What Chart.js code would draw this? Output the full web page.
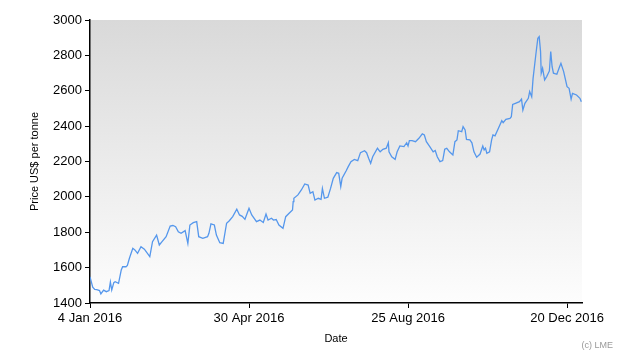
<!DOCTYPE html>
<html>
<head>
<meta charset="utf-8">
<script src="https://cdn.jsdelivr.net/npm/chart.js@4"></script>
<style>
html,body{margin:0;padding:0;background:#fff;}
#wrap{width:630px;height:360px;position:relative;}
</style>
</head>
<body>
<div id="wrap"><canvas id="priceChart" width="630" height="360"></canvas></div>
<script>
// days counted from 4 Jan 2016
const days = [0,2,3.5,5,7,8,10,12,14,15,16,17.5,18.5,21,23,24,26.5,27.5,29,31.5,33,35,37.5,40,44,46,49,51,53,56,59,61,63,65,67,70,72,73.5,76,78.5,80,83,86.5,87.5,89,91.5,93,95.5,98,100.5,102.5,105,108,110,112,114,117,119,122.5,125,127.5,129.5,131,133.5,135,137,139,142,144,146.5,149,149.5,150,153,155.5,158,160.5,162,164,165.5,168,170,171,172.5,175,177,179,181.5,183,184.5,185.5,188.5,190,192,194.5,197,199,202,203.5,205,206.5,208,211.5,213.5,215.5,218,219.5,220,222,224.5,226,228,231,233,234,235,237,239.5,242,244.5,246,247.5,250,252.5,254,255.5,257.5,259.5,261,262.5,264.5,267,268.5,270,271,273.5,274.5,276,277,279.5,281,282.5,284.5,287,289,290,291,292,294,295.5,296.5,298,300.5,303,304,306,309,310,311,313,316,317.5,318.5,320,322.5,323.5,325,326,328,329.5,330.5,331.5,332,333,334.5,336,338,339,340,341,343.5,345.5,346.5,348.5,351,352.5,354,355,358,360.5,361.5];
const prices = [1548,1490,1477,1475,1470,1451,1473,1464,1470,1519,1473,1515,1520,1511,1587,1605,1605,1612,1653,1709,1700,1681,1718,1704,1662,1747,1784,1728,1747,1775,1835,1838,1831,1803,1794,1809,1737,1841,1854,1860,1775,1766,1775,1794,1847,1841,1784,1741,1737,1851,1865,1888,1930,1898,1890,1873,1935,1898,1860,1869,1855,1903,1869,1879,1869,1872,1841,1822,1888,1907,1926,1973,1992,2011,2039,2073,2067,2020,2029,1982,1992,1986,2048,1992,1998,2048,2105,2137,2133,2058,2105,2148,2171,2199,2212,2205,2250,2261,2250,2218,2190,2227,2275,2255,2269,2275,2306,2255,2227,2212,2255,2288,2284,2306,2288,2318,2318,2312,2331,2356,2350,2312,2284,2255,2262,2227,2199,2205,2269,2275,2255,2237,2312,2322,2374,2369,2397,2378,2325,2322,2306,2255,2224,2242,2288,2265,2275,2246,2255,2322,2350,2345,2388,2431,2419,2438,2444,2453,2523,2529,2538,2553,2491,2529,2557,2595,2566,2670,2802,2897,2906,2821,2699,2727,2661,2680,2712,2821,2736,2699,2693,2736,2755,2708,2623,2614,2553,2585,2576,2557,2538];

const tickDays = [0,117,234,351];
const tickLabels = ['4 Jan 2016','30 Apr 2016','25 Aug 2016','20 Dec 2016'];

const bgPlugin = {
  id:'bg',
  beforeDraw(chart){
    const a = chart.chartArea, c = chart.ctx;
    const g = c.createLinearGradient(0,a.top,0,a.bottom);
    g.addColorStop(0,'#d9d9d9');
    g.addColorStop(1,'#fdfdfd');
    c.save();
    c.fillStyle = g;
    c.fillRect(a.left,a.top,a.right-a.left,a.bottom-a.top);
    c.restore();
  },
  afterDraw(chart){
    const c = chart.ctx;
    c.save();
    c.font = '9px "Liberation Sans"';
    c.fillStyle = '#999';
    c.textAlign = 'right';
    c.fillText('(c) LME',613,348);
    c.restore();
  }
};

const tickFont = {family:'"Liberation Sans"',size:13};

new Chart(document.getElementById('priceChart'),{
  type:'line',
  data:{
    datasets:[{
      data:days.map((d,i)=>({x:d,y:prices[i]})),
      borderColor:'#5597ec',
      borderWidth:1.3,
      pointRadius:0,
      tension:0,
      fill:false
    }]
  },
  options:{
    responsive:false,
    animation:false,
    layout:{padding:{left:0,top:20,right:48,bottom:0}},
    plugins:{legend:{display:false},tooltip:{enabled:false}},
    scales:{
      x:{
        type:'linear',
        min:0,max:362,
        afterFit(s){ s.height = 57; },
        afterBuildTicks(s){ s.ticks = tickDays.map(v=>({value:v})); },
        ticks:{
          color:'#000',font:tickFont,padding:3,maxRotation:0,autoSkip:false,
          callback:(v)=>tickLabels[tickDays.indexOf(v)]
        },
        grid:{drawOnChartArea:false,drawTicks:true,tickLength:5,color:'#000',lineWidth:1},
        border:{color:'#000',width:1.5},
        title:{display:true,text:'Date',color:'#000',font:{family:'"Liberation Sans"',size:11},padding:{bottom:14}}
      },
      y:{
        min:1400,max:3000,
        afterFit(s){ s.width = 90; },
        ticks:{stepSize:200,color:'#000',font:tickFont,padding:3,callback:(v)=>String(v)},
        grid:{drawOnChartArea:false,drawTicks:true,tickLength:5,color:'#000',lineWidth:1},
        border:{color:'#000',width:1.5},
        title:{display:true,text:'Price US$ per tonne',color:'#000',font:{family:'"Liberation Sans"',size:11},padding:{top:28}}
      }
    }
  },
  plugins:[bgPlugin]
});
</script>
</body>
</html>
